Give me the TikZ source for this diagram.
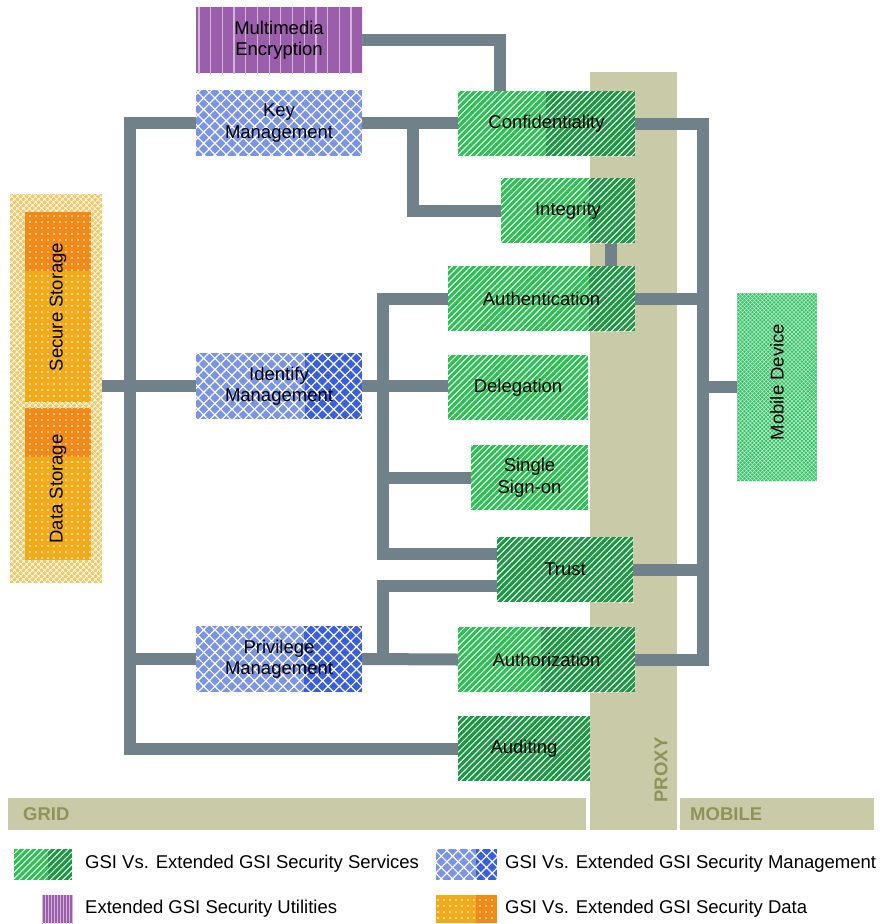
\documentclass[tikz,border=0pt]{standalone}
\usepackage{fontspec}
\setmainfont{Liberation Sans}
\usetikzlibrary{patterns.meta,calc}

% palette
\definecolor{gLight}{HTML}{2DC055}
\definecolor{gDark}{HTML}{1C9845}
\definecolor{bLight}{HTML}{7A94E8}
\definecolor{bDark}{HTML}{3A5FDE}
\definecolor{pBase}{HTML}{9A5EAA}
\definecolor{pLine}{HTML}{D2B4DA}
\definecolor{oDark}{HTML}{F28A18}
\definecolor{oLight}{HTML}{F0AA1A}
\definecolor{oOuter}{HTML}{F5C55E}
\definecolor{mGreen}{HTML}{33C266}
\definecolor{connC}{HTML}{71818A}
\definecolor{bandC}{HTML}{C9CBA8}
\definecolor{bandT}{HTML}{8D9359}

\newcommand\dgfont{\fontsize{18.5}{21.5}\selectfont}

\tikzset{
  conn/.style={draw=connC, line width=12pt, line join=miter},
  band/.style={fill=bandC, draw=none},
  bandtext/.style={text=bandT, font=\dgfont\bfseries, inner sep=0pt},
  box/.style={inner sep=0pt, align=center, font=\dgfont, text=black, draw=none},
  % right-hand (or top) share of a box in a second colour
  darkpart/.style 2 args={path picture={\fill[#1] ([xshift=#2]path picture bounding box.south west) rectangle (path picture bounding box.north east);}},
  darktop/.style 2 args={path picture={\fill[#1] (path picture bounding box.north west) rectangle ([yshift=-#2]path picture bounding box.north east);}},
  greenbox/.style={box, fill=gLight,
    postaction={pattern={Lines[angle=45,distance=4.4pt,line width=1.0pt]}, pattern color=white}},
  bluebox/.style={box, fill=bLight,
    postaction={pattern={Hatch[angle=45,distance=8pt,line width=1.2pt]}, pattern color=white}},
  purplebox/.style={box, fill=pBase,
    postaction={pattern={Lines[angle=90,distance=11.7pt,line width=1.2pt]}, pattern color=pLine}},
  storeouter/.style={box, fill=oOuter,
    postaction={pattern={Hatch[angle=45,distance=4pt,line width=1.1pt]}, pattern color=white}},
  storeinner/.style={box, fill=oLight,
    postaction={pattern={Dots[radius=0.8pt,distance=6pt]}, pattern color=white}},
  mobilebox/.style={box, fill=mGreen,
    postaction={pattern={Hatch[angle=45,distance=2.8pt,line width=0.5pt]}, pattern color=white!70!mGreen}},
  legtext/.style={font=\dgfont, inner sep=0pt, anchor=west},
}

\begin{document}
\begin{tikzpicture}[x=1pt,y=-1pt]
\useasboundingbox (0,0) rectangle (879,924);

% zone bands
\fill[band] (590,72) rectangle (677,830);
\fill[band] (8,798) rectangle (586,830);
\fill[band] (680,798) rectangle (874,830);
\node[bandtext, anchor=west] (gridT) at (23,814) {GRID};
\node[bandtext, anchor=west] (mobT) at (690,814) {MOBILE};
\node[bandtext, rotate=90] (proxyT) at (661,770) {PROXY};

% bus positions
\coordinate (lb) at (130,0);
\coordinate (mb) at (383,0);
\coordinate (rb) at (703,0);
\coordinate (kb) at (413,0);
\coordinate (mx) at (500,0);
\coordinate (ix) at (611,0);

% boxes are placed first so the connectors can refer to them,
% then redrawn on top of the connectors
\newcommand\allboxes{%
\node[storeouter, minimum width=92pt, minimum height=389pt] (store) at (56,388.5) {};
\node[storeinner, darktop={oDark}{59pt}, minimum width=66pt, minimum height=190pt] (sec) at (58,307) {\rotatebox{90}{Secure Storage}};
\node[storeinner, darktop={oDark}{49pt}, minimum width=66pt, minimum height=152pt] (dat) at (58,484) {\rotatebox{90}{Data Storage\hspace{10pt}}};
\node[purplebox, minimum width=166pt, minimum height=66pt] (me) at (279,40) {Multimedia\\Encryption};
\node[bluebox, minimum width=166pt, minimum height=66pt] (km) at (279,123) {Key\\Management};
\node[bluebox, darkpart={bDark}{109pt}, minimum width=166pt, minimum height=66pt] (im) at (279,386) {Identify\\Management};
\node[bluebox, darkpart={bDark}{108pt}, minimum width=166pt, minimum height=66pt] (pm) at (279,659) {Privilege\\Management};
\node[greenbox, darkpart={gDark}{88pt}, minimum width=177pt, minimum height=65pt] (conf) at (546.5,123.5) {Confidentiality};
\node[greenbox, darkpart={gDark}{88pt}, minimum width=134pt, minimum height=65pt] (integ) at (568,210.5) {Integrity};
\node[greenbox, darkpart={gDark}{141pt}, minimum width=187pt, minimum height=65pt] (auth) at (541.5,298.5) {Authentication};
\node[greenbox, minimum width=140pt, minimum height=65pt] (deleg) at (518,387.5) {Delegation};
\node[greenbox, minimum width=117pt, minimum height=65pt] (sso) at (529.5,477.5) {Single\\Sign-on};
\node[greenbox, fill=gDark, minimum width=136pt, minimum height=65pt] (trust) at (565,569.5) {Trust};
\node[greenbox, darkpart={gDark}{83pt}, minimum width=177pt, minimum height=65pt] (authz) at (546.5,659.5) {Authorization};
\node[greenbox, fill=gDark, minimum width=132pt, minimum height=65pt] (audit) at (524,748.5) {Auditing};
\node[mobilebox, minimum width=80pt, minimum height=188pt] (mob) at (777,387) {\rotatebox{90}{\hspace{10pt}Mobile Device}};
}
\allboxes

% connectors
\draw[conn] (km.west) -| (lb |- audit.west) -- (audit.west);
\draw[conn] (store.east |- im.west) -- (im.west);
\draw[conn] (lb |- pm.west) -- (pm.west);
\draw[conn] (me.east) -| (mx |- conf.north);
\draw[conn] (km.east) -- (km.east -| conf.west);
\draw[conn] (km.east -| kb) |- (integ.west);
\draw[conn] (integ.south -| ix) -- (auth.north -| ix);
\draw[conn] (auth.west) -| (mb |- 0,554) -- (trust.west |- 0,554);
\draw[conn] (im.east) -- (im.east -| deleg.west);
\draw[conn] (sso.west -| mb) -- (sso.west);
\draw[conn] (pm.east) -- (authz.west);
\draw[conn] (trust.west |- 0,586) -| (mb |- pm.east);
\draw[conn] (conf.east) -| (rb |- authz.east) -- (authz.east);
\draw[conn] (auth.east) -- (rb |- auth.east);
\draw[conn] (trust.east) -- (rb |- trust.east);
\draw[conn] (rb |- mob.west) -- (mob.west);

\allboxes

% legend
\node[greenbox, darkpart={gDark}{34pt}, minimum width=58pt, minimum height=31pt] (lgG) at (43,864.5) {};
\node[box, fill=pBase, postaction={pattern={Lines[angle=90,distance=3pt,line width=0.8pt]}, pattern color=pLine}, minimum width=31pt, minimum height=28pt] (lgP) at (57.5,909) {};
\node[bluebox, darkpart={bDark}{40pt}, minimum width=61pt, minimum height=31pt] (lgB) at (466.5,864.5) {};
\node[storeinner, darkpart={oDark}{40pt}, minimum width=61pt, minimum height=28pt] (lgO) at (466.5,909) {};
\node[legtext] (ltG) at (85,864) {GSI Vs. Extended GSI Security Services};
\node[legtext] (ltP) at (85,909) {Extended GSI Security Utilities};
\node[legtext] (ltB) at (505,864) {GSI Vs. Extended GSI Security Management};
\node[legtext] (ltO) at (505,909) {GSI Vs. Extended GSI Security Data};
\end{tikzpicture}
\end{document}
